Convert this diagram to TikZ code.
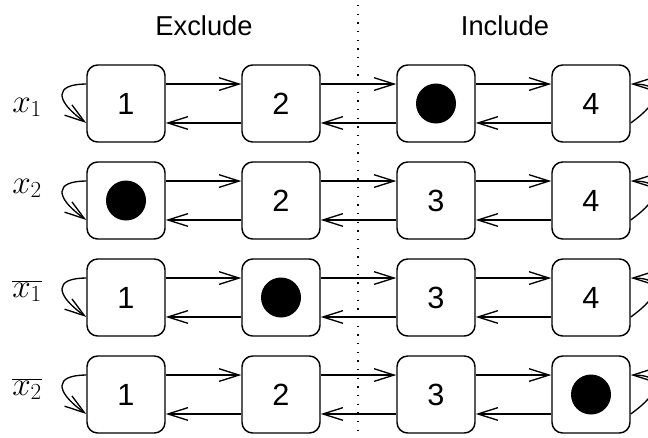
\documentclass[tikz,border=0pt]{standalone}
\usepackage{fontspec}
\setmainfont{Liberation Sans}
\usetikzlibrary{arrows.meta}
\begin{document}
\begin{tikzpicture}[x=0.75pt,y=-0.75pt,
  cell/.style={draw, line width=1.1pt, rounded corners=8pt,
    minimum width=58.5pt, minimum height=57.75pt, inner sep=0pt,
    font=\fontsize{23}{27}\selectfont},
  link/.style={line width=1pt,
    -{Straight Barb[length=15pt,width=9.5pt,line width=1pt]}},
  heading/.style={font=\fontsize{20.5}{24}\selectfont},
  rowlabel/.style={anchor=base west, inner sep=0pt,
    font=\fontsize{25}{29}\selectfont},
  divider/.style={line width=1.1pt, dash pattern=on 1.1pt off 5.4pt},
  token/.style={fill=black}
]
\useasboundingbox (0,0) rectangle (648,437);
\clip (0,0) rectangle (648,437);

% column headings and the dividing line
\node[heading] (hex) at (204,26) {Exclude};
\node[heading] (hin) at (505,26) {Include};
\coordinate (dtop) at (358,5);
\coordinate (dbot) at (358,437);
\draw[divider] (dtop) -- (dbot);

% row labels
\node[rowlabel] (l1) at (12,112) {$x_1$};
\node[rowlabel] (l2) at (12,193) {$x_2$};
\node[rowlabel] (l3) at (12,297) {$\overline{x_1}$};
\node[rowlabel] (l4) at (12,395) {$\overline{x_2}$};

% the four chains of cells
\node[cell] (a1) at (126,103.5) {1};
\node[cell] (a2) at (281,103.5) {2};
\node[cell] (a3) at (436,103.5) {};
\node[cell] (a4) at (591,103.5) {4};

\node[cell] (b1) at (126,200.5) {};
\node[cell] (b2) at (281,200.5) {2};
\node[cell] (b3) at (436,200.5) {3};
\node[cell] (b4) at (591,200.5) {4};

\node[cell] (c1) at (126,297.5) {1};
\node[cell] (c2) at (281,297.5) {};
\node[cell] (c3) at (436,297.5) {3};
\node[cell] (c4) at (591,297.5) {4};

\node[cell] (d1) at (126,394.5) {1};
\node[cell] (d2) at (281,394.5) {2};
\node[cell] (d3) at (436,394.5) {3};
\node[cell] (d4) at (591,394.5) {};

% occupied cells
\fill[token] (a3.center) circle[radius=15pt];
\fill[token] (b1.center) circle[radius=15pt];
\fill[token] (c2.center) circle[radius=15pt];
\fill[token] (d4.center) circle[radius=15pt];

% forward and backward moves between neighbours
\foreach \r in {a,b,c,d}{
  \foreach \i/\j in {1/2,2/3,3/4}{
    \draw[link] ([yshift=14.6pt]\r\i.east) -- ([yshift=14.6pt]\r\j.west);
    \draw[link] ([yshift=-14.6pt]\r\j.west) -- ([yshift=-14.6pt]\r\i.east);
  }
  % staying put at either end of the chain
  \draw[link] ([yshift=14.6pt]\r1.west)
    .. controls +(-32,0) and +(-32,-23) .. ([yshift=-14.6pt]\r1.west);
  \draw[link] ([yshift=-14.6pt]\r4.east)
    .. controls +(32,-23) and +(32,0) .. ([yshift=14.6pt]\r4.east);
}
\end{tikzpicture}
\end{document}
